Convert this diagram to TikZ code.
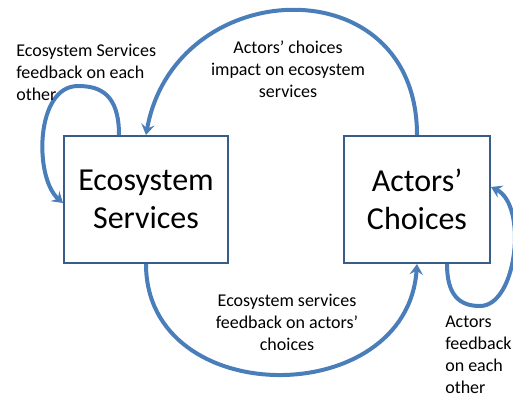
\documentclass[tikz,border=0pt]{standalone}
\usepackage{fontspec}
\setmainfont{Carlito}
\usetikzlibrary{arrows.meta}
\usetikzlibrary{positioning}
\usetikzlibrary{calc}

\definecolor{flowblue}{RGB}{74,126,187}
\definecolor{boxblue}{RGB}{56,93,138}

\tikzset{
  bigbox/.style={draw=boxblue, line width=1.5pt, fill=white, align=center,
    font=\fontsize{24}{28.5}\selectfont},
  flow/.style={draw=flowblue, line width=3pt,
    -{Stealth[length=8pt,width=10pt,inset=3pt]}},
  note/.style={inner sep=0pt, font=\fontsize{13.5}{16.5}\selectfont}
}

\begin{document}
\begin{tikzpicture}[x=0.75pt,y=0.75pt,yscale=-1,xscale=1]
\useasboundingbox (0,0) rectangle (513,394);

% Boxes
\node[bigbox, minimum width=123pt, minimum height=95.25pt] (es) at (146,199.5) {Ecosystem\\Services};
\node[bigbox, minimum width=109.5pt, minimum height=95.25pt, right=85.5pt of es] (ac) {Actors’\\Choices};

% turning points of the self loops
\coordinate (esloop) at ($(es.north)+(-68,-49)$);
\coordinate (acloop) at ($(ac.south)+(63,42)$);

% Arcs between the boxes
\draw[flow] (ac.north) .. controls ($(ac.north)+(0,-171)$) and ($(es.north)+(29,-161)$) .. (es.north);
\draw[flow] (es.south) .. controls ($(es.south)+(0,147)$) and ($(ac.south)+(-10,147)$) .. (ac.south);

% Self loops
\draw[flow] ($(es.north)+(-27,0)$) .. controls ($(es.north)+(-27,-41)$) and ($(esloop)+(22,0)$) .. (esloop)
  .. controls ($(esloop)+(-43,0)$) and ($(es.west)+(-29,-21.5)$) .. ($(es.west)+(0,3.5)$);
\draw[flow] ($(ac.south)+(30,0)$) .. controls ($(ac.south)+(30,32)$) and ($(acloop)+(-20,0)$) .. (acloop)
  .. controls ($(acloop)+(37,0)$) and ($(ac.east)+(37,5.5)$) .. ($(ac.east)+(0,-12.5)$);

% Labels
\node[note, align=left, anchor=west] (esself) at (16,72) {Ecosystem Services\\feedback on each\\other};
\node[note, align=center] (impact) at (288,69) {Actors’ choices\\impact on ecosystem\\services};
\node[note, align=center] (feedback) at (287,322) {Ecosystem services\\feedback on actors’\\choices};
\node[note, align=left, anchor=west] (acself) at (445,355) {Actors\\feedback\\on each\\other};

\end{tikzpicture}
\end{document}
